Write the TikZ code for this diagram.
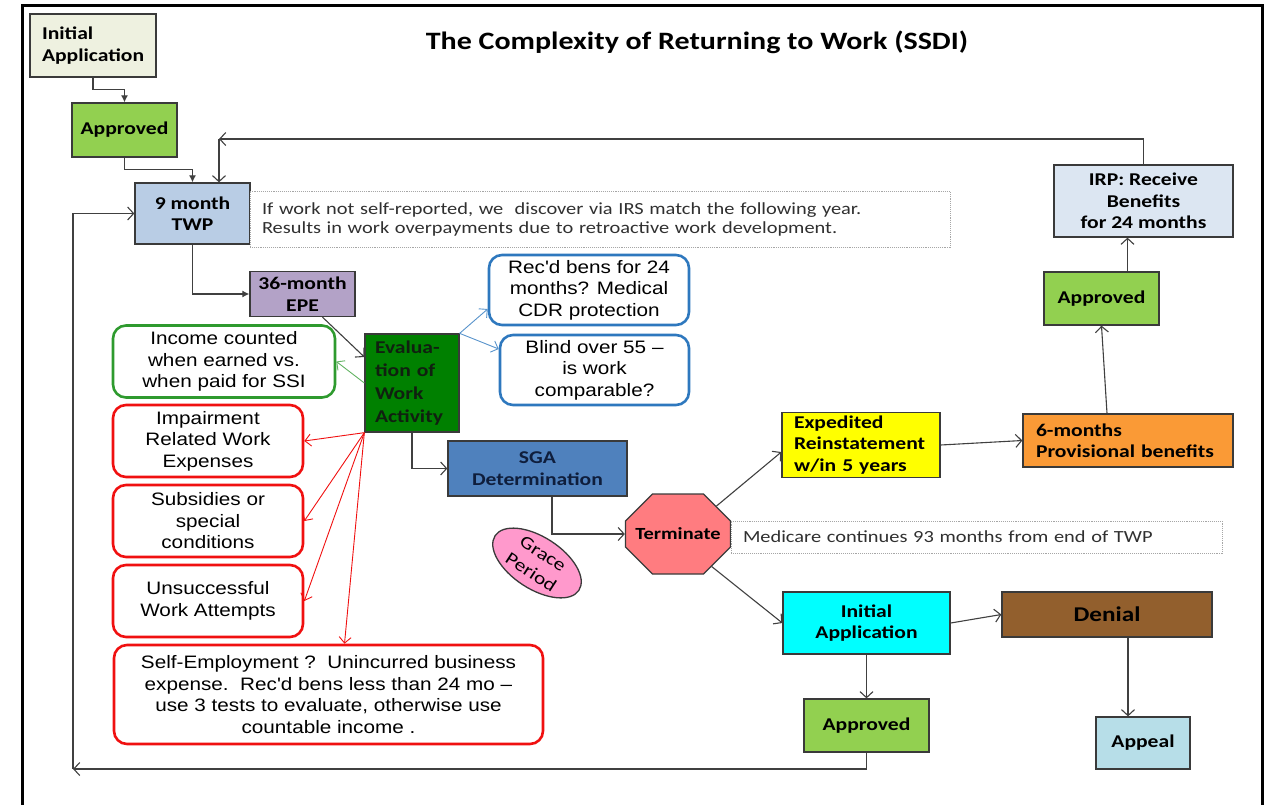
\documentclass[tikz,border=0pt]{standalone}
\usepackage{fontspec}
\setmainfont{Carlito}
\newfontfamily\lblfont[FakeStretch=1.2]{Carlito}
\newfontfamily\boxfont[FakeStretch=1.15]{Liberation Sans}
\usetikzlibrary{arrows.meta,shapes.geometric,shapes.misc}
\definecolor{boxedge}{HTML}{3A3A3A}
\definecolor{linegray}{HTML}{404040}
\definecolor{notegray}{HTML}{303030}
\definecolor{initfill}{HTML}{EEF1E0}
\definecolor{okgreen}{HTML}{92D050}
\definecolor{twpblue}{HTML}{B9CDE5}
\definecolor{epepurple}{HTML}{B3A2C7}
\definecolor{evalgreen}{HTML}{008000}
\definecolor{evaltext}{HTML}{102010}
\definecolor{sgablue}{HTML}{4F81BD}
\definecolor{sgatext}{HTML}{0F1E3C}
\definecolor{termred}{HTML}{FF7C80}
\definecolor{gracepink}{HTML}{FF99CC}
\definecolor{expyellow}{HTML}{FFFF00}
\definecolor{provorange}{HTML}{FA9A36}
\definecolor{irpblue}{HTML}{DCE6F2}
\definecolor{appcyan}{HTML}{00FFFF}
\definecolor{denialbrown}{HTML}{925F2D}
\definecolor{appealblue}{HTML}{B7DEE8}
\definecolor{ssigreen}{HTML}{2E9A2E}
\definecolor{cdrblue}{HTML}{2E78BE}
\definecolor{irwered}{HTML}{F01010}

\begin{document}
\begin{tikzpicture}[
  x=1pt, y=-1pt,
  tagbox/.style={draw=boxedge, line width=1.3pt, align=center, inner sep=3pt, text=black, font=\lblfont\bfseries\fontsize{18}{21.5}\selectfont},
  bubble/.style={draw, rounded corners=13pt, line width=2.6pt, fill=white, align=center, inner sep=3pt, font=\boxfont\fontsize{18}{21.5}\selectfont},
  remark/.style={draw=gray!70, densely dotted, line width=0.9pt, fill=white, align=left, inner xsep=12pt, text=notegray, font=\lblfont\fontsize{17}{19}\selectfont},
  flow/.style={-{Latex[length=7pt,width=7pt]}, line width=1.2pt, draw=linegray},
  barb/.style={-{Straight Barb[length=6pt,width=13pt]}, line width=1.1pt, draw=linegray},
  thinbarb/.style={-{Straight Barb[length=6pt,width=12pt]}, line width=0.9pt}
]
\useasboundingbox (0,0) rectangle (1264,804);
\draw[line width=3pt] (22,806) -- (22,5) -- (1262,5) -- (1262,806);

% Title
\node[font=\lblfont\bfseries\fontsize{25}{30}\selectfont] (title) at (697,42) {The Complexity of Returning to Work (SSDI)};

% Left column: entry into the trial work period
\node[tagbox, fill=initfill, align=left, text width=102pt, inner xsep=12pt, minimum height=63pt] (initapp) at (93,45.5) {Initial\\Application};
\node[tagbox, fill=okgreen, minimum width=105pt, minimum height=54pt] (approved) at (124.5,130) {Approved};
\node[tagbox, fill=twpblue, minimum width=115pt, minimum height=61pt] (twp) at (192.5,213.5) {9 month\\TWP};
\node[remark, text width=676pt, minimum height=56pt] (irsnote) at (600,219)
  {If work not self-reported, we\ \ discover via IRS match the following year.\\Results in work overpayments due to retroactive work development.};
\node[tagbox, fill=epepurple, minimum width=105pt, minimum height=45pt] (epe) at (302.5,294) {36-month\\EPE};
\node[tagbox, fill=evalgreen, text=evaltext, align=left, text width=74pt, inner xsep=10pt, minimum height=98pt,
  font=\lblfont\bfseries\fontsize{18}{23}\selectfont] (eval) at (412,383) {Evalua-\\tion of\\Work\\Activity};

% Evaluation considerations
\node[bubble, draw=ssigreen, minimum width=222pt, minimum height=72pt] (income) at (224,361.5) {Income counted\\when earned vs.\\when paid for SSI};
\node[bubble, draw=cdrblue, minimum width=200pt, minimum height=70pt] (cdr) at (589,290) {Rec'd bens for 24\\months? Medical\\CDR protection};
\node[bubble, draw=cdrblue, minimum width=189pt, minimum height=70pt] (blind) at (594.5,370) {Blind over 55 –\\is work\\comparable?};
\node[bubble, draw=irwered, minimum width=190pt, minimum height=72pt] (irwe) at (208,441) {Impairment\\Related Work\\Expenses};
\node[bubble, draw=irwered, minimum width=190pt, minimum height=72pt] (subsidy) at (208,521) {Subsidies or\\special\\conditions};
\node[bubble, draw=irwered, minimum width=190pt, minimum height=72pt] (uwa) at (208,601) {Unsuccessful\\Work Attempts};
\node[bubble, draw=irwered, minimum width=429pt, minimum height=99pt] (selfemp) at (328.5,694.5)
  {Self-Employment ?\ \ Unincurred business\\expense.\ \ Rec'd bens less than 24 mo –\\use 3 tests to evaluate, otherwise use\\countable income .};

% SGA and termination
\node[tagbox, fill=sgablue, text=sgatext, minimum width=179pt, minimum height=55pt] (sga) at (537.5,468.5) {SGA\\Determination};
\node[tagbox, chamfered rectangle, chamfered rectangle sep=21pt, fill=termred, minimum width=105pt, minimum height=80pt, inner sep=0pt,
  font=\lblfont\bfseries\fontsize{17}{20}\selectfont] (term) at (678,534) {Terminate};
\node[draw=boxedge, line width=1.3pt, ellipse, fill=gracepink, rotate=-33, minimum width=100pt, minimum height=52pt, inner sep=0pt,
  align=center, font=\lblfont\fontsize{18}{22}\selectfont] (grace) at (537,563) {Grace\\Period};
\node[remark, text width=467pt, minimum height=32pt] (medinote) at (976.5,537) {Medicare continues 93 months from end of TWP};

% Right side: reinstatement and reapplication
\node[tagbox, fill=expyellow, align=left, text width=134pt, inner xsep=12pt, minimum height=62pt] (exr) at (861,445) {Expedited\\Reinstatement\\w/in 5 years};
\node[tagbox, fill=provorange, align=left, text width=184pt, inner xsep=13pt, minimum height=53pt] (provis) at (1128,440.5) {6-months\\Provisional benefits};
\node[tagbox, fill=okgreen, minimum width=115pt, minimum height=53pt] (approvedirp) at (1101.5,298.5) {Approved};
\node[tagbox, fill=irpblue, minimum width=179pt, minimum height=72pt] (irp) at (1143.5,201) {IRP: Receive\\Benefits\\for 24 months};
\node[tagbox, fill=appcyan, minimum width=167pt, minimum height=62pt] (reapply) at (866.5,623) {Initial\\Application};
\node[tagbox, fill=denialbrown, minimum width=210pt, minimum height=45pt, font=\lblfont\bfseries\fontsize{21}{25}\selectfont] (denial) at (1107,614.5) {Denial};
\node[tagbox, fill=appealblue, minimum width=94pt, minimum height=52pt] (appeal) at (1143,743) {Appeal};
\node[tagbox, fill=okgreen, minimum width=125pt, minimum height=53pt] (approvedre) at (866.5,725.5) {Approved};

\coordinate (backcorner) at (219,139);
\coordinate (loopcorner) at (73,769);

% Main flow
\draw[flow] (initapp.south) -- ++(0,12) -| (approved.north);
\draw[flow] (approved.south) -- ++(0,12) -| (twp.north);
\draw[flow] (twp.south) |- (epe.west);
\draw[barb] ([xshift=20pt]epe.south) -- ([yshift=26pt]eval.west);
\draw[barb] (eval.south) |- (sga.west);
\draw[barb] ([xshift=14.5pt]sga.south) |- (term.west);

% Evaluation branches
\draw[thinbarb, draw=ssigreen!75] (eval.west) -- (income.east);
\draw[thinbarb, draw=cdrblue!80] (eval.north east) -- ([yshift=-19pt]cdr.west);
\draw[thinbarb, draw=cdrblue!80] (eval.north east) -- ([yshift=21pt]blind.west);
\draw[thinbarb, draw=irwered] (eval.south west) -- (irwe.east);
\draw[thinbarb, draw=irwered] (eval.south west) -- (subsidy.east);
\draw[thinbarb, draw=irwered] (eval.south west) -- (uwa.east);
\draw[thinbarb, draw=irwered] (eval.south west) -- ([xshift=16pt]selfemp.north);

% After termination
\draw[barb] (term.36) -- ([yshift=-7pt]exr.west);
\draw[barb] (exr.east) -- (provis.west);
\draw[barb] ([xshift=-21pt]provis.north) -- (approvedirp.south);
\draw[barb] ([xshift=26pt]approvedirp.north) -- ([xshift=26pt]approvedirp.north |- irp.south);
\draw[barb] (term.-44) -- (reapply.west);
\draw[barb] (reapply.east) -- (denial.west);
\draw[barb] (reapply.south) -- (approvedre.north);
\draw[barb] ([xshift=21pt]denial.south) -- ([xshift=21pt]denial.south |- appeal.north);

% Loops back to the TWP
\draw[barb] (irp.north) |- (backcorner);
\draw[barb] (backcorner) -- (backcorner |- twp.north);
\draw[barb] (approvedre.south) |- (loopcorner);
\draw[barb] (loopcorner) |- (twp.west);
\end{tikzpicture}
\end{document}
